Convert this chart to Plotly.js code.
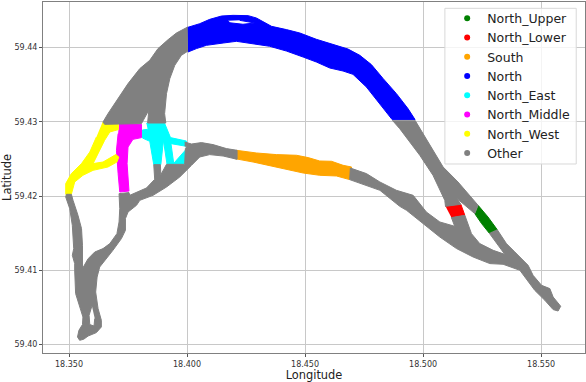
<!DOCTYPE html>
<html>
<head>
<meta charset="utf-8">
<script src="https://cdn.plot.ly/plotly-3.0.1.min.js"></script>
<style>
  html, body { margin: 0; padding: 0; background: #fff; }
  #plot { width: 586px; height: 382px; }
</style>
</head>
<body>
<div id="plot"></div>
<script>
// outlines of each waterway section (null starts another part)
var upperLon = [18.5233, 18.5275, 18.5314, 18.5280, 18.5248, 18.5219];
var upperLat = [59.41875, 59.41717, 59.41547, 59.41501, 59.41628, 59.41763];

var lowerLon = [18.5095, 18.5160, 18.5177, 18.5120];
var lowerLat = [59.41861, 59.41888, 59.4174, 59.41709];

var southLon = [18.4209, 18.4294, 18.4379, 18.4464, 18.4513, 18.4562, 18.4612, 18.4661, 18.4697,
  18.4689, 18.4633, 18.4562, 18.4492, 18.4421, 18.4350, 18.4280, 18.4202];
var southLat = [59.42616, 59.4258, 59.42558, 59.42549, 59.42518, 59.42472, 59.42468, 59.42414, 59.42391,
  59.42221, 59.4227, 59.42279, 59.4231, 59.4236, 59.42414, 59.42458, 59.42504];

var northLon = [18.4000, 18.4054, 18.4096, 18.4146, 18.4195, 18.4259, 18.4294, 18.4329, 18.4358, 18.4421,
  18.4478, 18.4548, 18.4619, 18.4682, 18.4732, 18.4781, 18.4831, 18.4887, 18.4936, 18.4966,
  18.4869, 18.4817, 18.4760, 18.4703, 18.4661, 18.4605, 18.4548, 18.4492, 18.4421, 18.4350,
  18.4280, 18.4209, 18.4153, 18.4082, 18.4040, 18.4004, null,
  18.4174, 18.4181, 18.4237, 18.4287, 18.4223];
var northLat = [59.4427, 59.44323, 59.44381, 59.44426, 59.44435, 59.44431, 59.44399, 59.44332, 59.44287, 59.44243,
  59.44197, 59.44112, 59.4404, 59.43981, 59.43896, 59.43771, 59.43582, 59.4338, 59.43178, 59.4303,
  59.4303, 59.43245, 59.43469, 59.4364, 59.43685, 59.43725, 59.43806, 59.43873, 59.43954, 59.44018,
  59.44054, 59.44085, 59.44062, 59.44031, 59.43987, 59.43941, null,
  59.44362, 59.44335, 59.44315, 59.44332, 59.44368];

var eastLon = [18.3828, 18.3905, 18.3930, 18.3997, 18.3997, 18.3932, 18.3944, 18.3915, 18.3900, 18.3889,
  18.3859, 18.3842, 18.3811, 18.3811, 18.3833, null,
  18.3941, 18.3995, 18.3990];
var eastLat = [59.4298, 59.4298, 59.42787, 59.42741, 59.4267, 59.42706, 59.42431, 59.42431, 59.42751, 59.42423,
  59.42423, 59.42737, 59.42782, 59.4289, 59.42899, null,
  59.42431, 59.42625, 59.42431];

var middleLon = [18.3712, 18.3807, 18.3807, 18.3771, 18.3750, 18.3746, 18.3754, 18.3715, 18.3708, 18.3701, 18.3708];
var middleLat = [59.42984, 59.42966, 59.42787, 59.42764, 59.4266, 59.42437, 59.42067, 59.42054, 59.42302, 59.42616, 59.42841];

var westLon = [18.3642, 18.3709, 18.3709, 18.3673, 18.3651, 18.3623, 18.3602, 18.3644, 18.3680, 18.3698, 18.3711, 18.3703,
  18.3665, 18.3602, 18.3559, 18.3524, 18.3510, 18.3486, 18.3486, 18.3510, 18.3553, 18.3588, 18.3616];
var westLat = [59.42993, 59.42966, 59.42895, 59.42863, 59.42751, 59.42571, 59.42437, 59.42458, 59.42518, 59.42558, 59.42526, 59.42458,
  59.42391, 59.42346, 59.42279, 59.42189, 59.42023, 59.42023, 59.42167, 59.42302, 59.42437, 59.42593, 59.42795];

var otherLon = [
  // north-west arm
  18.4003, 18.3955, 18.3920, 18.3877, 18.3842, 18.3800, 18.3750, 18.3701, 18.3665, 18.3644, 18.3651, 18.3807,
  18.3838, 18.3833, 18.3910, 18.3905, 18.3913, 18.3927, 18.3948, 18.3976, 18.4004, null,
  // south-west network
  18.3990, 18.4019, 18.4061, 18.4110, 18.4167, 18.4212, 18.4212, 18.4153, 18.4096, 18.4054, 18.4019, 18.3969,
  18.3913, 18.3856, 18.3800, 18.3786, 18.3750, 18.3739, 18.3739, 18.3722, 18.3686, 18.3651, 18.3630, 18.3619,
  18.3613, 18.3623, 18.3637, 18.3637, 18.3616, 18.3581, 18.3562, 18.3545, 18.3536, 18.3542, 18.3557, 18.3559,
  18.3545, 18.3528, 18.3524, 18.3524, 18.3514, 18.3520, 18.3514, 18.3503, 18.3486, 18.3489, 18.3510, 18.3517,
  18.3538, 18.3553, 18.3557, 18.3557, 18.3581, 18.3609, 18.3644, 18.3673, 18.3703, 18.3712, 18.3715, 18.3712,
  18.3754, 18.3757, 18.3828, 18.3863, 18.3859, 18.3887, 18.3889, 18.3913, 18.3990, 18.3993, 18.4000, 18.3990, null,
  // small island at the southern end
  18.3597, 18.3585, 18.3588, 18.3606, 18.3609, null,
  // north-east arm
  18.4966, 18.5014, 18.5085, 18.5148, 18.5233, 18.5219, 18.5144, 18.5160, 18.5095, 18.5092, 18.5042, 18.4986,
  18.4901, 18.4870, null,
  // south-east network
  18.5314, 18.5353, 18.5389, 18.5445, 18.5466, 18.5502, 18.5537, 18.5551, 18.5583, 18.5572, 18.5551, 18.5516,
  18.5473, 18.5410, 18.5339, 18.5283, 18.5212, 18.5142, 18.5071, 18.5000, 18.4930, 18.4901, 18.4817, 18.4689,
  18.4692, 18.4760, 18.4817, 18.4887, 18.4958, 18.5014, 18.5071, 18.5134, 18.5120, 18.5177, 18.5205, 18.5240,
  18.5297, 18.5346, 18.5280];
var otherLat = [
  59.44278, 59.44197, 59.44108, 59.43987, 59.43829, 59.43717, 59.43515, 59.4329, 59.4311, 59.42997, 59.42966, 59.42976,
  59.43155, 59.42984, 59.42984, 59.4311, 59.4338, 59.43582, 59.43761, 59.43896, 59.43954, null,
  59.42728, 59.42701, 59.4272, 59.42693, 59.42639, 59.42616, 59.42495, 59.42539, 59.42558, 59.42526, 59.42414, 59.42256,
  59.42121, 59.42009, 59.41942, 59.41875, 59.41784, 59.41695, 59.41538, 59.41426, 59.41268, 59.41133, 59.41043, 59.40908,
  59.40706, 59.40483, 59.40325, 59.40235, 59.40159, 59.40113, 59.40069, 59.40055, 59.401, 59.4019, 59.40267, 59.40369,
  59.40504, 59.40685, 59.40999, 59.41089, 59.41201, 59.41291, 59.41605, 59.4183, 59.41987, 59.42023, 59.42023, 59.41942,
  59.4174, 59.41561, 59.41336, 59.41022, 59.41156, 59.41245, 59.41291, 59.41359, 59.41493, 59.4165, 59.4183, 59.42032,
  59.42046, 59.42009, 59.42108, 59.42225, 59.42423, 59.42423, 59.42288, 59.42427, 59.42427, 59.42639, 59.4267, 59.42674, null,
  59.40518, 59.40392, 59.40267, 59.40248, 59.40348, null,
  59.4302, 59.42774, 59.42391, 59.42189, 59.41875, 59.41763, 59.41965, 59.41888, 59.41861, 59.41942, 59.42279, 59.42549,
  59.42908, 59.4302, null,
  59.41547, 59.41359, 59.41245, 59.41066, 59.40931, 59.40796, 59.40752, 59.40639, 59.40514, 59.4045, 59.40469, 59.40594,
  59.40729, 59.40999, 59.4108, 59.41089, 59.41178, 59.41291, 59.41447, 59.41628, 59.41807, 59.41861, 59.42077, 59.42221,
  59.42377, 59.42302, 59.42189, 59.42077, 59.42009, 59.41784, 59.4165, 59.41592, 59.41709, 59.4174, 59.41493, 59.41359,
  59.41268, 59.41214, 59.41501];

var names = ["North_Upper", "North_Lower", "South", "North", "North_East", "North_Middle", "North_West", "Other"];
var colors = ["#008000", "#ff0000", "#ffa500", "#0000ff", "#00ffff", "#ff00ff", "#ffff00", "#808080"];
var lons = [upperLon, lowerLon, southLon, northLon, eastLon, middleLon, westLon, otherLon];
var lats = [upperLat, lowerLat, southLat, northLat, eastLat, middleLat, westLat, otherLat];

var traces = [];
for (var i = 0; i < names.length; i++) {
  traces.push({
    x: lons[i], y: lats[i], type: "scatter", mode: "lines", fill: "toself",
    fillcolor: colors[i], line: {color: colors[i], width: 1},
    showlegend: false, hoverinfo: "skip"
  });
}
// legend shows dots, so the entries are separate empty marker traces
for (var j = 0; j < names.length; j++) {
  traces.push({
    x: [null], y: [null], type: "scatter", mode: "markers", name: names[j],
    marker: {color: colors[j], size: 6}
  });
}

var layout = {
  width: 586, height: 382,
  margin: {l: 43.2, r: 0.5, t: 1.7, b: 29.3, pad: 0},
  paper_bgcolor: "#fff", plot_bgcolor: "#fff",
  font: {family: "DejaVu Sans", color: "#333"},
  showlegend: true,
  legend: {
    x: 0.7457, y: 0.9954, xanchor: "left", yanchor: "top",
    bgcolor: "rgba(0,0,0,0)", borderwidth: 0,
    font: {size: 12.5, color: "#222"}, itemwidth: 30
  },
  // legend frame, the plotly one is too tall for these rows
  shapes: [{
    type: "rect", xref: "paper", yref: "paper", layer: "above",
    x0: 0.7415, x1: 0.9838, y0: 0.5385, y1: 0.982,
    fillcolor: "rgba(255,255,255,0.8)", line: {color: "#d8d8d8", width: 1}
  }],
  xaxis: {
    range: [18.33898, 18.5686], dtick: 0.05, tick0: 18.35, tickformat: ".3f",
    title: {text: "Longitude", font: {size: 11.4, color: "#222"}, standoff: 4},
    tickfont: {size: 8, color: "#333"},
    ticks: "outside", ticklen: 3, tickcolor: "#555", tickwidth: 0.8,
    showgrid: true, gridcolor: "#c8c8c8", gridwidth: 1, zeroline: false,
    showline: true, mirror: true, linecolor: "#808080", linewidth: 1, automargin: false
  },
  yaxis: {
    range: [59.39884, 59.44615], dtick: 0.01, tick0: 59.40, tickformat: ".2f",
    title: {text: "Latitude", font: {size: 11.4, color: "#222"}, standoff: 4},
    tickfont: {size: 8, color: "#333"},
    ticks: "outside", ticklen: 3, tickcolor: "#555", tickwidth: 0.8,
    showgrid: true, gridcolor: "#c8c8c8", gridwidth: 1, zeroline: false,
    showline: true, mirror: true, linecolor: "#808080", linewidth: 1, automargin: false
  }
};

Plotly.newPlot("plot", traces, layout, {displayModeBar: false});
</script>
</body>
</html>
